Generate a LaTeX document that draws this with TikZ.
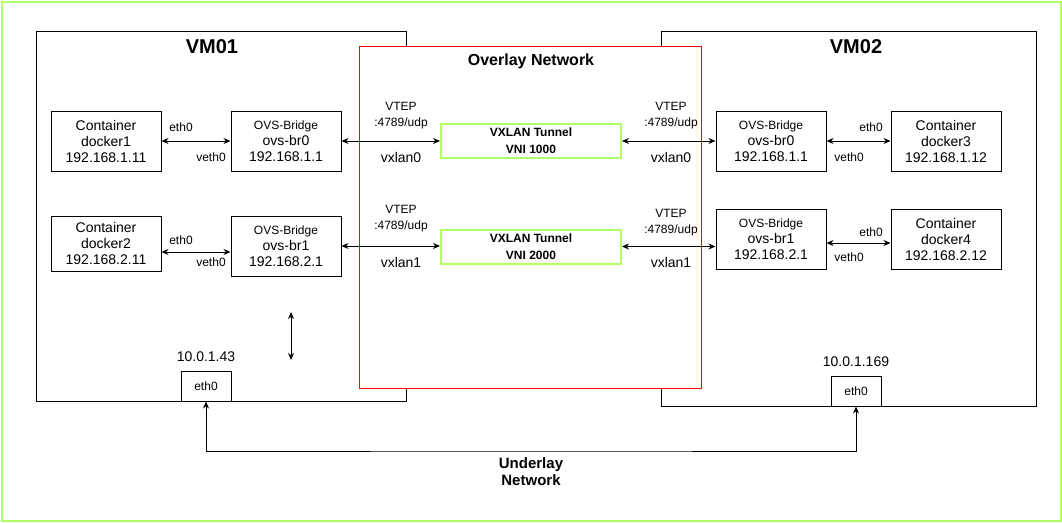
\documentclass[tikz,border=0pt]{standalone}
\usepackage{fontspec}
\setmainfont{Liberation Sans}
\usetikzlibrary{arrows.meta}
\definecolor{lgreen}{HTML}{B3FF66}

\begin{document}
\begin{tikzpicture}[x=1pt,y=-1pt,line width=1pt,>={Stealth[length=7pt,width=6pt]}]
				\useasboundingbox (0,0) rectangle (1062,522);
				\draw[lgreen,line width=2pt] (1.5,1.5) rectangle (1060.5,520.5);

				\begin{scope}[every node/.style={draw,rectangle,inner sep=0}]
					\node[minimum width=370,minimum height=370] (VM1) at (221,216) {};
					\node[minimum width=375,minimum height=375] (VM2) at (848.5,218.5) {};
					\node[draw=red,fill=white,minimum width=342,minimum height=342] (OV) at (530,217) {};
				\end{scope}

				\begin{scope}[every node/.style={font=\bfseries\fontsize{20}{24}\selectfont}]
					\node (T1) at (212,47) {VM01};
					\node (T2) at (856,47) {VM02};
					\node[font=\bfseries\fontsize{16}{19}\selectfont] (TO) at (531,61) {Overlay Network};
				\end{scope}

				\begin{scope}[every node/.style={draw,rectangle,inner sep=0,minimum width=110,minimum height=60,align=center,font=\fontsize{14}{16}\selectfont}]
					\node (D1) at (106,141) {Container\\docker1\\192.168.1.11};
					\node[minimum height=55] (D2) at (106,243.5) {Container\\docker2\\192.168.2.11};
					\node (B0L) at (286,141) {{\fontsize{12}{16}\selectfont OVS-Bridge}\\ovs-br0\\192.168.1.1};
					\node (B1L) at (286,246) {{\fontsize{12}{16}\selectfont OVS-Bridge}\\ovs-br1\\192.168.2.1};
					\node (B0R) at (771,141) {{\fontsize{12}{16}\selectfont OVS-Bridge}\\ovs-br0\\192.168.1.1};
					\node (B1R) at (771,239) {{\fontsize{12}{16}\selectfont OVS-Bridge}\\ovs-br1\\192.168.2.1};
					\node (D3) at (946,141) {Container\\docker3\\192.168.1.12};
					\node (D4) at (946,239) {Container\\docker4\\192.168.2.12};
				\end{scope}

				\begin{scope}[every node/.style={draw=lgreen,line width=2pt,rectangle,inner sep=0,minimum width=180,minimum height=34,align=center,font=\bfseries\fontsize{12}{17}\selectfont}]
					\node (X1) at (531,141) {VXLAN Tunnel\\VNI 1000};
					\node (X2) at (531,246.5) {VXLAN Tunnel\\VNI 2000};
				\end{scope}

				\begin{scope}[every node/.style={draw,rectangle,inner sep=0,minimum width=50,minimum height=30,font=\fontsize{12}{14}\selectfont}]
					\node (E1) at (206,386) {eth0};
					\node (E2) at (856,391) {eth0};
				\end{scope}

				\begin{scope}[every node/.style={inner sep=0,align=center,font=\fontsize{12}{16}\selectfont}]
					\node (L1) at (181,127) {eth0};
					\node (L2) at (211,157) {veth0};
					\node (L3) at (181,240) {eth0};
					\node (L4) at (211,262) {veth0};
					\node (L5) at (871,127) {eth0};
					\node (L6) at (849,157) {veth0};
					\node (L7) at (871,232) {eth0};
					\node (L8) at (849,257) {veth0};
					\node (P1) at (401,116) {VTEP\\:4789/udp};
					\node (P2) at (671,116) {VTEP\\:4789/udp};
					\node (P3) at (401,219) {VTEP\\:4789/udp};
					\node (P4) at (671,223) {VTEP\\:4789/udp};
				\end{scope}

				\begin{scope}[every node/.style={inner sep=0,font=\fontsize{14}{16}\selectfont}]
					\node (N1) at (401,157) {vxlan0};
					\node (N2) at (671,157) {vxlan0};
					\node (N3) at (401,262) {vxlan1};
					\node (N4) at (671,262) {vxlan1};
					\node (I1) at (206,357) {10.0.1.43};
					\node (I2) at (856,362) {10.0.1.169};
					\node[align=center,font=\bfseries\fontsize{15}{17}\selectfont] (UN) at (531,472) {Underlay\\Network};
				\end{scope}

				\begin{scope}
					\coordinate (V1) at (291,312);
					\coordinate (V2) at (291,360);
					\coordinate (U) at (531,451);
				\end{scope}

				\begin{scope}[<->]
					\draw (D1) -- (B0L);
					\draw (B0L) -- (X1);
					\draw (X1) -- (B0R);
					\draw (B0R) -- (D3);
					\draw ([yshift=-8.5]D2.east) -- ([yshift=-8.5]D2.east -| B1L.west);
					\draw (B1L.east) -- (B1L.east -| X2.west);
					\draw (X2.east) -- (X2.east -| B1R.west);
					\draw ([yshift=-4]B1R.east) -- ([yshift=-4]B1R.east -| D4.west);
					\draw (V1) -- (V2);
					\draw (E1.south) |- (U) -| (E2.south);
				\end{scope}
			\end{tikzpicture}
\end{document}
